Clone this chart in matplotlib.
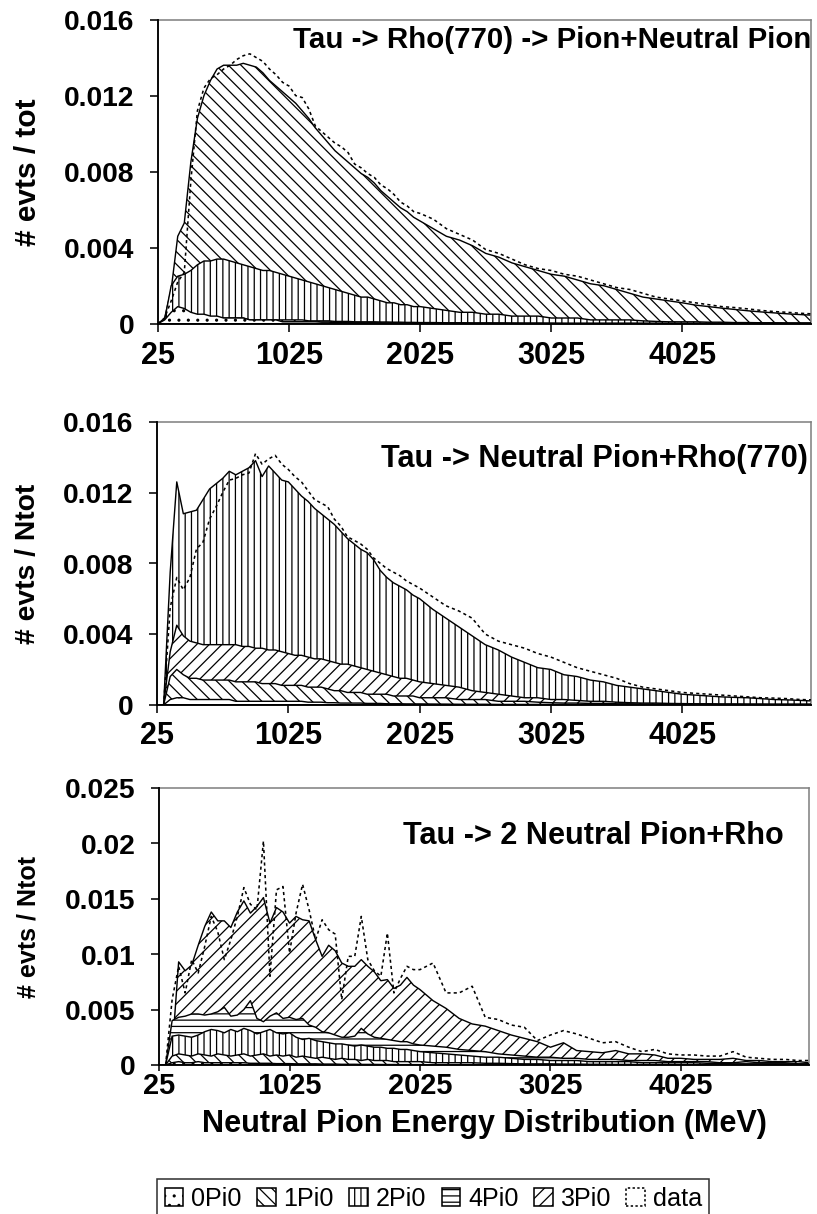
import matplotlib
matplotlib.use("Agg")
import matplotlib.pyplot as plt
from matplotlib.patches import Patch

DPI = 113
plt.rcParams['font.family'] = ['Liberation Sans', 'DejaVu Sans']
plt.rcParams['font.weight'] = 'bold'
plt.rcParams['axes.labelweight'] = 'bold'
plt.rcParams['hatch.linewidth'] = 0.8

# energy bins (MeV): 50 MeV steps up to 2 GeV, 100 MeV after, last bin at the right edge
x_bins = list(range(25, 2000, 50)) + list(range(2025, 5000, 100)) + [5010]
x_ticks = [25, 1025, 2025, 3025, 4025]

# ---- panel 1 : Tau -> Rho(770) -> Pion+Neutral Pion
p1_0pi0 = [0, 0.0002, 0.0006, 0.0009, 0.0008, 0.0006, 0.0005, 0.0005, 0.0004, 0.0004,
           0.0003, 0.0003, 0.0003, 0.0003, 0.0002, 0.0002, 0.0002, 0.0002, 0.0002, 0.0001,
           0.0001, 0.0001, 0.0001, 0.0001, 0.0001, 0.00008, 0.00008, 0.00006, 0.00006, 0.00005,
           0.00005, 0.00005, 0.00004, 0.00004, 0.00004, 0.00004, 0.00003, 0.00003, 0.00003, 0.00003,
           0.00003, 0.00003, 0.00002, 0.00002, 0.00002, 0.00002, 0.00002, 0.00002, 0.00002, 0.00002,
           0.00001, 0.00001, 0.00001, 0.00001, 0.00001, 0.00001, 0.00001, 0.00001, 0.00001, 0.00001,
           0.00001, 0.00001, 0.00001, 0.00001, 0.00001, 0.00001, 0.00001, 0.00001, 0.00001, 0.00001,
           0.00001]
p1_1pi0 = [0, 0.0003, 0.0018, 0.0046, 0.0053, 0.0085, 0.0108, 0.0120, 0.0128, 0.0134,
           0.0136, 0.0136, 0.0136, 0.0137, 0.0136, 0.0135, 0.0132, 0.0128, 0.0125, 0.0122,
           0.0119, 0.0116, 0.0112, 0.0108, 0.0103, 0.0099, 0.0095, 0.0091, 0.0088, 0.0085,
           0.0082, 0.0079, 0.0077, 0.0074, 0.0070, 0.0067, 0.0064, 0.0061, 0.0059, 0.0056,
           0.0054, 0.0050, 0.0046, 0.0044, 0.0041, 0.0037, 0.0035, 0.0032, 0.0030, 0.0028,
           0.0026, 0.0025, 0.0023, 0.0021, 0.0020, 0.0018, 0.0016, 0.0014, 0.0013, 0.0012,
           0.0011, 0.00098, 0.0009, 0.00082, 0.00075, 0.00068, 0.00062, 0.00057, 0.00052, 0.00048,
           0.00045]
p1_2pi0 = [0, 0.0002, 0.0020, 0.0025, 0.0026, 0.0028, 0.0031, 0.0033, 0.0033, 0.0034,
           0.0034, 0.0033, 0.0032, 0.0031, 0.0030, 0.0029, 0.0028, 0.0028, 0.0027, 0.0026,
           0.0025, 0.0024, 0.0023, 0.0022, 0.0021, 0.0020, 0.0019, 0.0018, 0.0017, 0.0016,
           0.0015, 0.0014, 0.0014, 0.0013, 0.0012, 0.0011, 0.0011, 0.0010, 0.0010, 0.0009,
           0.0009, 0.0008, 0.0007, 0.0006, 0.0006, 0.0005, 0.0005, 0.0004, 0.0004, 0.0004,
           0.0003, 0.0003, 0.0003, 0.0002, 0.0002, 0.0002, 0.0002, 0.00015, 0.00012, 0.0001,
           0.0001, 0.0001, 0.00008, 0.00008, 0.00006, 0.00006, 0.00005, 0.00005, 0.00004, 0.00004,
           0.00004]
p1_4pi0 = [0, 0.00005, 0.00015, 0.0002, 0.0002, 0.0002, 0.0002, 0.00015, 0.00015, 0.00015,
           0.00015, 0.00015, 0.00015, 0.00015, 0.0001, 0.0001, 0.0001, 0.0001, 0.0001, 0.0001,
           0.0001, 0.0001, 0.0001, 0.00008, 0.00008, 0.00008, 0.00008, 0.00006, 0.00006, 0.00006,
           0.00005, 0.00005, 0.00005, 0.00005, 0.00004, 0.00004, 0.00004, 0.00004, 0.00003, 0.00003,
           0.00003, 0.00003, 0.00002, 0.00002, 0.00002, 0.00002, 0.00002, 0.00002, 0.00001, 0.00001,
           0.00001, 0.00001, 0.00001, 0.00001, 0.00001, 0.00001, 0.00001, 0.00001, 0.00001, 0.00001,
           0.00001, 0.00001, 0.00001, 0.00001, 0.00001, 0.00001, 0.00001, 0.00001, 0.00001, 0.00001,
           0.00001]
p1_3pi0 = [0, 0.0001, 0.0003, 0.0004, 0.0004, 0.0004, 0.0004, 0.0003, 0.0003, 0.0003,
           0.0003, 0.0003, 0.0003, 0.0003, 0.0002, 0.0002, 0.0002, 0.0002, 0.0002, 0.0002,
           0.0002, 0.0002, 0.0002, 0.00015, 0.00015, 0.00015, 0.00015, 0.00012, 0.00012, 0.00012,
           0.0001, 0.0001, 0.0001, 0.0001, 0.00009, 0.00009, 0.00008, 0.00008, 0.00007, 0.00007,
           0.00006, 0.00006, 0.00005, 0.00005, 0.00004, 0.00004, 0.00004, 0.00003, 0.00003, 0.00003,
           0.00003, 0.00002, 0.00002, 0.00002, 0.00002, 0.00002, 0.00002, 0.00002, 0.00002, 0.00002,
           0.00002, 0.00002, 0.00002, 0.00002, 0.00002, 0.00002, 0.00002, 0.00002, 0.00002, 0.00002,
           0.00002]
p1_data = [0, 0.0003, 0.0012, 0.0022, 0.0027, 0.0075, 0.0112, 0.0124, 0.0129, 0.0131,
           0.0134, 0.0136, 0.0139, 0.0141, 0.0142, 0.0140, 0.0138, 0.0134, 0.0131, 0.0127,
           0.0125, 0.0120, 0.0119, 0.0113, 0.0104, 0.0101, 0.0098, 0.0095, 0.0093, 0.0090,
           0.0084, 0.0082, 0.0079, 0.0077, 0.0073, 0.0071, 0.0068, 0.0064, 0.0062, 0.0059,
           0.0058, 0.0055, 0.0050, 0.0047, 0.0044, 0.0039, 0.0037, 0.0034, 0.0031, 0.0029,
           0.0028, 0.0026, 0.0025, 0.0023, 0.0021, 0.0019, 0.0018, 0.0016, 0.0014, 0.0013,
           0.0012, 0.0011, 0.0010, 0.0009, 0.00085, 0.00078, 0.0007, 0.00064, 0.0006, 0.00055,
           0.00052]

# ---- panel 2 : Tau -> Neutral Pion+Rho(770)
p2_0pi0 = [0, 0, 0.0003, 0.0004, 0.0004, 0.0003, 0.0003, 0.0003, 0.0003, 0.0003,
           0.0003, 0.0003, 0.0002, 0.0002, 0.0002, 0.0002, 0.0002, 0.0002, 0.0002, 0.0002,
           0.0002, 0.0002, 0.0002, 0.00015, 0.00015, 0.00015, 0.00012, 0.00012, 0.0001, 0.0001,
           0.0001, 0.0001, 0.00008, 0.00008, 0.00008, 0.00006, 0.00006, 0.00006, 0.00005, 0.00005,
           0.00005, 0.00004, 0.00004, 0.00003, 0.00003, 0.00003, 0.00002, 0.00002, 0.00002, 0.00002,
           0.00002, 0.00002, 0.00001, 0.00001, 0.00001, 0.00001, 0.00001, 0.00001, 0.00001, 0.00001,
           0.00001, 0.00001, 0.00001, 0.00001, 0.00001, 0.00001, 0.00001, 0.00001, 0.00001, 0.00001,
           0.00001]
p2_1pi0 = [0, 0, 0.0016, 0.0020, 0.0017, 0.0015, 0.0015, 0.0014, 0.0014, 0.0014,
           0.0014, 0.0014, 0.0013, 0.0013, 0.0013, 0.0013, 0.0012, 0.0012, 0.0012, 0.0011,
           0.0011, 0.0011, 0.0011, 0.0010, 0.0010, 0.0010, 0.0009, 0.0008, 0.0008, 0.0007,
           0.0007, 0.0007, 0.0006, 0.0006, 0.0006, 0.0006, 0.0005, 0.0005, 0.0005, 0.0005,
           0.0004, 0.0004, 0.0004, 0.0003, 0.0003, 0.0003, 0.0002, 0.0002, 0.0002, 0.00015,
           0.00012, 0.0001, 0.0001, 0.00008, 0.00008, 0.00006, 0.00006, 0.00005, 0.00005, 0.00004,
           0.00004, 0.00003, 0.00003, 0.00003, 0.00003, 0.00003, 0.00003, 0.00003, 0.00003, 0.00003,
           0.00003]
p2_2pi0 = [0, 0, 0.0075, 0.0126, 0.0108, 0.0109, 0.0110, 0.0116, 0.0122, 0.0125,
           0.0128, 0.0132, 0.0130, 0.0132, 0.0134, 0.0138, 0.0129, 0.0135, 0.0131, 0.0127,
           0.0126, 0.0122, 0.0118, 0.0115, 0.0111, 0.0108, 0.0105, 0.0102, 0.0098, 0.0094,
           0.0091, 0.0088, 0.0086, 0.0082, 0.0076, 0.0072, 0.0069, 0.0067, 0.0065, 0.0062,
           0.0060, 0.0054, 0.0049, 0.0044, 0.0039, 0.0034, 0.0031, 0.0027, 0.0024, 0.0021,
           0.0020, 0.0017, 0.0016, 0.0014, 0.0013, 0.0011, 0.0010, 0.0009, 0.0008, 0.0007,
           0.0006, 0.00055, 0.0005, 0.00045, 0.00042, 0.0004, 0.00035, 0.0003, 0.00028, 0.00025,
           0.00022]
p2_4pi0 = [0, 0, 0.0002, 0.0002, 0.00015, 0.00015, 0.00015, 0.00012, 0.00012, 0.00012,
           0.0001, 0.0001, 0.0001, 0.0001, 0.0001, 0.0001, 0.00008, 0.00008, 0.00008, 0.00008,
           0.00006, 0.00006, 0.00006, 0.00006, 0.00005, 0.00005, 0.00005, 0.00004, 0.00004, 0.00004,
           0.00003, 0.00003, 0.00003, 0.00003, 0.00003, 0.00002, 0.00002, 0.00002, 0.00002, 0.00002,
           0.00002, 0.00002, 0.00001, 0.00001, 0.00001, 0.00001, 0.00001, 0.00001, 0.00001, 0.00001,
           0.00001, 0.00001, 0.00001, 0.00001, 0.00001, 0.00001, 0.00001, 0.00001, 0.00001, 0.00001,
           0.00001, 0.00001, 0.00001, 0.00001, 0.00001, 0.00001, 0.00001, 0.00001, 0.00001, 0.00001,
           0.00001]
p2_3pi0 = [0, 0, 0.0030, 0.0045, 0.0039, 0.0036, 0.0035, 0.0034, 0.0034, 0.0034,
           0.0034, 0.0034, 0.0034, 0.0033, 0.0033, 0.0032, 0.0032, 0.0031, 0.0031, 0.0030,
           0.0029, 0.0028, 0.0028, 0.0027, 0.0026, 0.0026, 0.0025, 0.0024, 0.0023, 0.0023,
           0.0022, 0.0021, 0.0020, 0.0019, 0.0018, 0.0017, 0.0016, 0.0015, 0.0015, 0.0014,
           0.0013, 0.0012, 0.0011, 0.0010, 0.0008, 0.0007, 0.0006, 0.0005, 0.0004, 0.0004,
           0.0003, 0.0003, 0.00025, 0.0002, 0.0002, 0.00015, 0.00012, 0.0001, 0.0001, 0.00008,
           0.00007, 0.00006, 0.00006, 0.00005, 0.00005, 0.00004, 0.00004, 0.00003, 0.00003, 0.00003,
           0.00003]
p2_data = [0, 0, 0.0055, 0.0072, 0.0065, 0.0072, 0.0088, 0.0092, 0.0105, 0.0112,
           0.0120, 0.0127, 0.0128, 0.0130, 0.0131, 0.0142, 0.0136, 0.0139, 0.0141, 0.0136,
           0.0133, 0.0129, 0.0126, 0.0121, 0.0116, 0.0114, 0.0112, 0.0105, 0.0101, 0.0095,
           0.0093, 0.0091, 0.0088, 0.0083, 0.0080, 0.0077, 0.0075, 0.0073, 0.0070, 0.0068,
           0.0066, 0.0061, 0.0056, 0.0053, 0.0049, 0.0040, 0.0036, 0.0034, 0.0032, 0.0029,
           0.0027, 0.0024, 0.0021, 0.0019, 0.0017, 0.0015, 0.0012, 0.0010, 0.0009, 0.0008,
           0.0007, 0.00065, 0.0006, 0.00055, 0.0005, 0.00045, 0.0004, 0.00038, 0.00035, 0.0003,
           0.00028]

# ---- panel 3 : Tau -> 2 Neutral Pion+Rho
p3_0pi0 = [0, 0, 0.0002, 0.0003, 0.0002, 0.0002, 0.0003, 0.0002, 0.0002, 0.0002,
           0.0002, 0.0002, 0.0002, 0.0002, 0.00015, 0.00015, 0.00015, 0.00015, 0.00012, 0.00012,
           0.00012, 0.0001, 0.0001, 0.0001, 0.0001, 0.00008, 0.00008, 0.00008, 0.00006, 0.00006,
           0.00006, 0.00005, 0.00005, 0.00005, 0.00004, 0.00004, 0.00004, 0.00003, 0.00003, 0.00003,
           0.00003, 0.00002, 0.00002, 0.00002, 0.00002, 0.00002, 0.00001, 0.00001, 0.00001, 0.00001,
           0.00001, 0.00001, 0.00001, 0.00001, 0.00001, 0.00001, 0.00001, 0.00001, 0.00001, 0.00001,
           0.00001, 0.00001, 0.00001, 0.00001, 0.00001, 0.00001, 0.00001, 0.00001, 0.00001, 0.00001,
           0.00001]
p3_1pi0 = [0, 0, 0.0008, 0.0010, 0.0009, 0.0008, 0.0010, 0.0009, 0.0008, 0.0010,
           0.0009, 0.0008, 0.0009, 0.0010, 0.0008, 0.0009, 0.0010, 0.0008, 0.0009, 0.0008,
           0.0009, 0.0007, 0.0008, 0.0007, 0.0006, 0.0007, 0.0006, 0.0005, 0.0006, 0.0005,
           0.0005, 0.0004, 0.0005, 0.0004, 0.0004, 0.0004, 0.0003, 0.0003, 0.0003, 0.0003,
           0.0003, 0.0002, 0.0002, 0.0002, 0.0002, 0.00015, 0.00015, 0.00012, 0.0001, 0.0001,
           0.0001, 0.00008, 0.00008, 0.00006, 0.00006, 0.00005, 0.00005, 0.00004, 0.00004, 0.00004,
           0.00003, 0.00003, 0.00003, 0.00003, 0.00003, 0.00003, 0.00003, 0.00003, 0.00003, 0.00003,
           0.00003]
p3_2pi0 = [0, 0, 0.0026, 0.0027, 0.0026, 0.0025, 0.0027, 0.0030, 0.0032, 0.0031,
           0.0029, 0.0032, 0.0030, 0.0033, 0.0031, 0.0028, 0.0030, 0.0032, 0.0029, 0.0028,
           0.0029, 0.0025, 0.0023, 0.0024, 0.0022, 0.0021, 0.0020, 0.0019, 0.0019, 0.0018,
           0.0017, 0.0018, 0.0017, 0.0016, 0.0016, 0.0015, 0.0015, 0.0014, 0.0014, 0.0013,
           0.0012, 0.0011, 0.0010, 0.0009, 0.0008, 0.0007, 0.0007, 0.0006, 0.0005, 0.0005,
           0.0004, 0.0004, 0.0004, 0.0003, 0.0003, 0.0003, 0.0003, 0.0002, 0.0002, 0.0002,
           0.0002, 0.0002, 0.00015, 0.00015, 0.0001, 0.0001, 0.0001, 0.0001, 0.0001, 0.00008,
           0.00008]
p3_4pi0 = [0, 0, 0.0040, 0.0043, 0.0044, 0.0046, 0.0046, 0.0045, 0.0046, 0.0048,
           0.0052, 0.0044, 0.0045, 0.0050, 0.0058, 0.0042, 0.0039, 0.0044, 0.0047, 0.0042,
           0.0043, 0.0041, 0.0042, 0.0036, 0.0034, 0.0030, 0.0029, 0.0027, 0.0025, 0.0025,
           0.0026, 0.0033, 0.0028, 0.0025, 0.0024, 0.0023, 0.0022, 0.0021, 0.0021, 0.0019,
           0.0018, 0.0017, 0.0016, 0.0014, 0.0013, 0.0012, 0.0010, 0.0009, 0.0008, 0.0007,
           0.0007, 0.0006, 0.0006, 0.0005, 0.0005, 0.0005, 0.0004, 0.0004, 0.0004, 0.0003,
           0.0003, 0.0003, 0.0003, 0.0002, 0.0002, 0.0003, 0.0002, 0.0002, 0.0002, 0.0001,
           0.0001]
p3_3pi0 = [0, 0, 0.0012, 0.0093, 0.0085, 0.0090, 0.0108, 0.0125, 0.0138, 0.0130,
           0.0130, 0.0124, 0.0138, 0.0148, 0.0137, 0.0143, 0.0151, 0.0128, 0.0142, 0.0138,
           0.0128, 0.0134, 0.0131, 0.0130, 0.0113, 0.0098, 0.0108, 0.0103, 0.0092, 0.0089,
           0.0089, 0.0095, 0.0089, 0.0084, 0.0076, 0.0077, 0.0069, 0.0072, 0.0079, 0.0072,
           0.0068, 0.0058, 0.0051, 0.0042, 0.0037, 0.0035, 0.0031, 0.0027, 0.0024, 0.0021,
           0.0016, 0.0020, 0.0013, 0.0012, 0.0011, 0.0013, 0.0010, 0.0010, 0.0009, 0.0006,
           0.0006, 0.0005, 0.0005, 0.0005, 0.0006, 0.0004, 0.0004, 0.0003, 0.0003, 0.0003,
           0.0002]
p3_data = [0, 0, 0.0059, 0.0089, 0.0065, 0.0095, 0.0083, 0.0107, 0.0134, 0.0120,
           0.0095, 0.0113, 0.0134, 0.0160, 0.0145, 0.0140, 0.0202, 0.0080, 0.0158, 0.0161,
           0.0101, 0.0137, 0.0163, 0.0140, 0.0113, 0.0131, 0.0122, 0.0118, 0.0059, 0.0098,
           0.0098, 0.0134, 0.0095, 0.0085, 0.0080, 0.0119, 0.0065, 0.0078, 0.0089, 0.0086,
           0.0086, 0.0092, 0.0065, 0.0065, 0.0071, 0.0043, 0.0041, 0.0036, 0.0034, 0.0022,
           0.0027, 0.0031, 0.0028, 0.0024, 0.0020, 0.0021, 0.0016, 0.0012, 0.0014, 0.0010,
           0.0009, 0.0009, 0.0008, 0.0008, 0.0012, 0.0007, 0.0006, 0.0005, 0.0005, 0.0004,
           0.0004]

legend_names = ['0Pi0', '1Pi0', '2Pi0', '4Pi0', '3Pi0', 'data']
hatches = {'0Pi0': '..', '1Pi0': '\\\\\\', '2Pi0': '|||', '4Pi0': '---', '3Pi0': '///'}

fig = plt.figure(figsize=(817.4 / DPI, 1214.4 / DPI), dpi=DPI)


def draw_panel(rect, series, data, back_to_front, ymax, yticks, ylabels,
               title, title_pos, title_size, ylabel, ylabel_size,
               xlen, xpad, xsize):
    ax = fig.add_axes(rect)
    for z, name in enumerate(back_to_front):
        ax.fill_between(x_bins, 0, series[name], facecolor='white',
                        edgecolor='black', hatch=hatches[name],
                        linewidth=0.9, zorder=2 + z)
    ax.plot(x_bins, data, color='black', lw=1.0, ls=(0, (2, 2)), zorder=20)

    ax.set_xlim(25, 5010)
    ax.set_ylim(0, ymax)
    ax.set_xticks(x_ticks)
    ax.set_xticklabels([str(t) for t in x_ticks])
    ax.set_yticks(yticks)
    ax.set_yticklabels(ylabels)
    ax.tick_params(axis='y', direction='out', length=5, width=1, pad=10, labelsize=18)
    ax.tick_params(axis='x', direction='out', length=xlen, width=1, pad=xpad,
                   labelsize=xsize)

    for side in ['top', 'right']:
        ax.spines[side].set_color('#808080')
        ax.spines[side].set_linewidth(1.0)
    for side in ['left', 'bottom']:
        ax.spines[side].set_color('black')
        ax.spines[side].set_linewidth(1.2)
    ax.spines['left'].set_zorder(30)
    ax.spines['bottom'].set_zorder(30)

    ax.text(title_pos[0], title_pos[1], title, transform=ax.transAxes,
            ha='right', va='center', fontsize=title_size, zorder=40)
    ax.set_ylabel(ylabel, fontsize=ylabel_size, va='center')
    ax.yaxis.set_label_coords(-(rect[0] * 817 - 28) / (rect[2] * 817), 0.5)
    return ax


ticks16 = [0, 0.004, 0.008, 0.012, 0.016]
labels16 = ['0', '0.004', '0.008', '0.012', '0.016']

ax1 = draw_panel([158 / 817, 1 - 324 / 1214, 653 / 817, 304 / 1214],
                 {'0Pi0': p1_0pi0, '1Pi0': p1_1pi0, '2Pi0': p1_2pi0,
                  '4Pi0': p1_4pi0, '3Pi0': p1_3pi0},
                 p1_data, ['1Pi0', '2Pi0', '3Pi0', '4Pi0', '0Pi0'],
                 0.016, ticks16, labels16,
                 'Tau -> Rho(770) -> Pion+Neutral Pion', (1.0, 0.934), 18.8,
                 '# evts / tot', 19, 5, 6, 19.5)

ax2 = draw_panel([157 / 817, 1 - 705 / 1214, 654 / 817, 283 / 1214],
                 {'0Pi0': p2_0pi0, '1Pi0': p2_1pi0, '2Pi0': p2_2pi0,
                  '4Pi0': p2_4pi0, '3Pi0': p2_3pi0},
                 p2_data, ['2Pi0', '3Pi0', '1Pi0', '4Pi0', '0Pi0'],
                 0.016, ticks16, labels16,
                 'Tau -> Neutral Pion+Rho(770)', (0.995, 0.869), 19.5,
                 '# evts / Ntot', 18, 5, 5, 19.5)

ax3 = draw_panel([159 / 817, 1 - 1065 / 1214, 650 / 817, 277 / 1214],
                 {'0Pi0': p3_0pi0, '1Pi0': p3_1pi0, '2Pi0': p3_2pi0,
                  '4Pi0': p3_4pi0, '3Pi0': p3_3pi0},
                 p3_data, ['3Pi0', '4Pi0', '2Pi0', '1Pi0', '0Pi0'],
                 0.025, [0, 0.005, 0.01, 0.015, 0.02, 0.025],
                 ['0', '0.005', '0.01', '0.015', '0.02', '0.025'],
                 'Tau -> 2 Neutral Pion+Rho', (0.96, 0.827), 19.5,
                 '# evts / Ntot', 16, 4, 0.5, 18.5)

ax3.set_xlabel('Neutral Pion Energy Distribution (MeV)', fontsize=19.5, va='center')
ax3.xaxis.set_label_coords(0.5, -(1124 - 1065) / 277)

handles = []
for name in legend_names:
    if name == 'data':
        handles.append(Patch(facecolor='white', edgecolor='black',
                             linestyle=(0, (1.5, 1.5)), linewidth=1.0))
    else:
        handles.append(Patch(facecolor='white', edgecolor='black',
                             hatch=hatches[name], linewidth=1.0))

leg = fig.legend(handles, legend_names, loc='center',
                 bbox_to_anchor=(433 / 817, 1 - 1199 / 1214), ncol=6,
                 frameon=True, fancybox=False, edgecolor='black',
                 handlelength=0.75, handleheight=0.75, handletextpad=0.3,
                 columnspacing=0.62, borderpad=0.3,
                 prop={'family': ['Liberation Sans Narrow', 'Liberation Sans'],
                       'weight': 'normal', 'size': 16})
leg.get_frame().set_linewidth(1.0)

fig.savefig('out.png', dpi=DPI)
